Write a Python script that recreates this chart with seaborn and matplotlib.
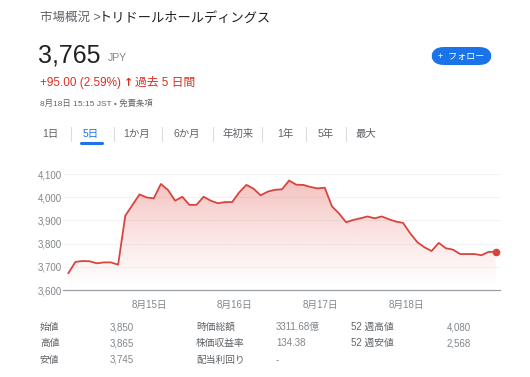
import numpy as np
import pandas as pd
import seaborn as sns
import matplotlib.pyplot as plt
from matplotlib.patches import FancyBboxPatch
from matplotlib.ticker import FuncFormatter

precos = [3672, 3721, 3725, 3724, 3715, 3719, 3719, 3709, 3920, 3966,
          4012, 3999, 3995, 4057, 4031, 3985, 4002, 3967, 3967, 4002,
          3985, 3974, 3979, 3979, 4021, 4053, 4037, 4008, 4024, 4032,
          4034, 4072, 4054, 4053, 4044, 4038, 4041, 3961, 3930, 3892,
          3902, 3909, 3917, 3909, 3917, 3905, 3895, 3889, 3844, 3806,
          3784, 3768, 3803, 3780, 3774, 3755, 3755, 3755, 3750, 3764,
          3765]
dias = ['8月15日', '8月16日', '8月17日', '8月18日']
inicio_dia = 11.4      # posição (em pontos) do início de 8/15
pontos_por_dia = 12
y_ticks = [3600, 3700, 3800, 3900, 4000, 4100]
abas = ['1日', '5日', '1か月', '6か月', '年初来', '1年', '5年', '最大']
abas_x = [50, 91, 137, 187, 238, 285, 326, 366]

tabela_rotulos = [['始値', '高値', '安値'],
                  ['時価総額', '株価収益率', '配当利回り'],
                  ['52 週高値', '52 週安値', '']]
tabela_valores = [['3,850', '3,865', '3,745'],
                  ['3311.68億', '134.38', '-'],
                  ['4,080', '2,568', '']]

sns.set_theme(style='white')
plt.rcParams['font.family'] = ['Liberation Sans', 'Noto Sans CJK JP', 'DejaVu Sans']

W, H = 530, 377
fig = plt.figure(figsize=(W / 100, H / 100), dpi=100)


def px(x, y):
    return x / W, 1 - y / H


VERMELHO = '#d93025'
CINZA = '#5f6368'
CINZA_CLARO = '#80868b'
AZUL = '#1a73e8'

# Cabeçalho
fig.text(*px(40, 18), '市場概況 >', color=CINZA, fontsize=9, va='center')
fig.text(*px(99, 18), 'トリドールホールディングス', color='#202124', fontsize=9.5, va='center')
fig.text(*px(38, 55), '3,765', color='#202124', fontsize=18, va='center')
fig.text(*px(108, 58), 'JPY', color=CINZA_CLARO, fontsize=7.5, va='center')
fig.text(*px(40, 83), '+95.00 (2.59%)', color=VERMELHO, fontsize=8.5, va='center')
fig.text(*px(124, 83), '↑', color=VERMELHO, fontsize=8, va='center',
         family=['DejaVu Sans'], fontweight='bold')
fig.text(*px(135, 83), '過去 5 日間', color=VERMELHO, fontsize=8.5, va='center')
fig.text(*px(40, 104), '8月18日 15:15 JST • 免責条項', color=CINZA, fontsize=6, va='center')

# Botão seguir
bx0, by0 = px(431, 65)
bx1, by1 = px(492, 47)
fig.patches.append(FancyBboxPatch((bx0, by0), bx1 - bx0, by1 - by0,
                                  boxstyle='round,pad=0,rounding_size=0.024',
                                  transform=fig.transFigure, facecolor=AZUL,
                                  edgecolor='none', mutation_aspect=W / H))
fig.text(*px(461.5, 56), '+  フォロー', color='white', fontsize=6.5, va='center', ha='center')

# Abas de período
for i, (aba, xa) in enumerate(zip(abas, abas_x)):
    cor = AZUL if aba == '5日' else CINZA
    fig.text(*px(xa, 134), aba, color=cor, fontsize=7.5, va='center', ha='center')
    if i < len(abas) - 1:
        xs = (xa + abas_x[i + 1]) / 2
        fig.add_artist(plt.Line2D([xs / W] * 2, [1 - 127 / H, 1 - 141 / H],
                                  color='#dadce0', lw=0.8, transform=fig.transFigure))
fig.add_artist(plt.Line2D([81 / W, 102 / W], [1 - 143 / H] * 2, color=AZUL, lw=2.2,
                          solid_capstyle='round', transform=fig.transFigure))

# Gráfico
left, bottom = px(63, 290)
right, top = px(500, 174)
ax = fig.add_axes([left, bottom, right - left, top - bottom])

df = pd.DataFrame({'t': np.arange(len(precos)), 'preco': precos})
ymin, ymax = y_ticks[0], y_ticks[-1]

for yv in y_ticks[1:]:
    ax.axhline(yv, color='#f1f3f4', lw=0.8, zorder=0)

poly = ax.fill_between(df['t'], df['preco'], ymin, color='none', lw=0)
grad = np.linspace(0, 1, 256).reshape(-1, 1)
cmap_rgba = np.zeros((256, 1, 4))
cmap_rgba[..., 0] = 0xd9 / 255
cmap_rgba[..., 1] = 0x30 / 255
cmap_rgba[..., 2] = 0x25 / 255
cmap_rgba[..., 3] = 0.30 * grad ** 1.2
img = ax.imshow(cmap_rgba, extent=[df['t'].min(), df['t'].max(), ymin, 4080],
                origin='lower', aspect='auto', zorder=1)
img.set_clip_path(poly.get_paths()[0], transform=ax.transData)

sns.lineplot(data=df, x='t', y='preco', ax=ax, color='#d8453f', lw=1.3, zorder=3)
ax.plot(df['t'].iloc[-1], df['preco'].iloc[-1], 'o', color='#d8453f', ms=4.5, zorder=4)

ax.set_xlim(-0.74, 60.6)
ax.set_ylim(ymin, ymax)
ax.set_yticks(y_ticks)
ax.yaxis.set_major_formatter(FuncFormatter(lambda v, _: f'{int(v):,}'))
ax.set_xticks([inicio_dia + pontos_por_dia * k for k in range(len(dias))])
ax.set_xticklabels(dias)
ax.tick_params(axis='both', labelsize=7, labelcolor=CINZA_CLARO, pad=2)
ax.tick_params(axis='x', length=4, width=0.8, color='#9aa0a6', direction='out', pad=3)
ax.tick_params(axis='y', length=0, pad=1)
ax.set_xlabel('')
ax.set_ylabel('')
for lado in ['top', 'right', 'left']:
    ax.spines[lado].set_visible(False)
ax.spines['bottom'].set_color('#9aa0a6')
ax.spines['bottom'].set_linewidth(0.9)
ax.patch.set_alpha(0)

# Tabela de indicadores
linhas_y = [327, 343, 360]
col_rotulo = [40, 196, 351]
col_valor = [(110, 'left'), (276, 'left'), (471, 'right')]
for c in range(3):
    for r in range(3):
        yy = linhas_y[r]
        if tabela_rotulos[c][r]:
            fig.text(*px(col_rotulo[c], yy), tabela_rotulos[c][r], color=CINZA,
                     fontsize=7, va='center')
        if tabela_valores[c][r]:
            xv, ha = col_valor[c]
            fig.text(*px(xv, yy), tabela_valores[c][r], color=CINZA_CLARO,
                     fontsize=7, va='center', ha=ha)

fig.savefig('out.png', dpi=100, facecolor='white')
